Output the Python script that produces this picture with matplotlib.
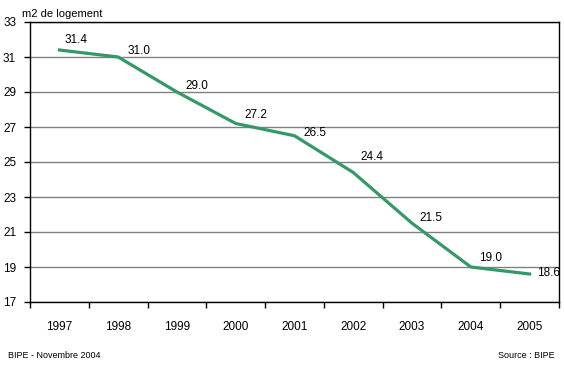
import matplotlib
matplotlib.use("Agg")
import matplotlib.pyplot as plt

years = ["1997", "1998", "1999", "2000", "2001", "2002", "2003", "2004", "2005"]
values = [31.4, 31.0, 29.0, 27.2, 26.5, 24.4, 21.5, 19.0, 18.6]
yticks = [17, 19, 21, 23, 25, 27, 29, 31, 33]

plt.rcParams['font.family'] = ['Liberation Sans', 'DejaVu Sans']

fig = plt.figure(figsize=(5.64, 3.67), dpi=100)
ax = fig.add_axes([30 / 564, 65 / 367, 529 / 564, 280 / 367])

x = list(range(len(years)))
ax.plot(x, values, color="#339966", linewidth=2.3)

# data labels (pixel offsets from each point, up and to the right)
offsets = [(17, 10), (21, 6), (20, 6), (20, 8), (20, 3), (19, 15), (19, 5), (20, 9), (19, 1)]
for xi, v, (dx, dy) in zip(x, values, offsets):
    ax.annotate(f"{v:.1f}", (xi, v), xytext=(dx, dy), textcoords="offset pixels",
                ha="center", va="center", fontsize=8.5, color="black")

ax.set_xlim(-0.5, len(years) - 0.5)
ax.set_ylim(17, 33)
ax.set_yticks(yticks)
ax.set_yticklabels([str(t) for t in yticks], fontsize=8.5)
ax.yaxis.grid(True, color="#808080", linewidth=1)
ax.set_axisbelow(True)

ax.set_xticks(x)
ax.set_xticklabels(years, fontsize=8.5)
ax.tick_params(axis="x", length=0, pad=14)
ax.set_xticks([i - 0.5 for i in range(len(years) + 1)], minor=True)
ax.tick_params(axis="x", which="minor", length=4, direction="out", width=1)
ax.tick_params(axis="y", length=4, width=1, pad=6)

for side in ["left", "bottom", "top", "right"]:
    ax.spines[side].set_linewidth(1)
    ax.spines[side].set_color("black")

fig.text(22 / 564, 1 - 14 / 367, "m2 de logement", fontsize=8, va="center", ha="left")
fig.text(8 / 564, 1 - 355 / 367, "BIPE - Novembre 2004", fontsize=6.5, va="center", ha="left")
fig.text(555 / 564, 1 - 355 / 367, "Source : BIPE", fontsize=6.5, va="center", ha="right")

fig.savefig("out.png", dpi=100)
